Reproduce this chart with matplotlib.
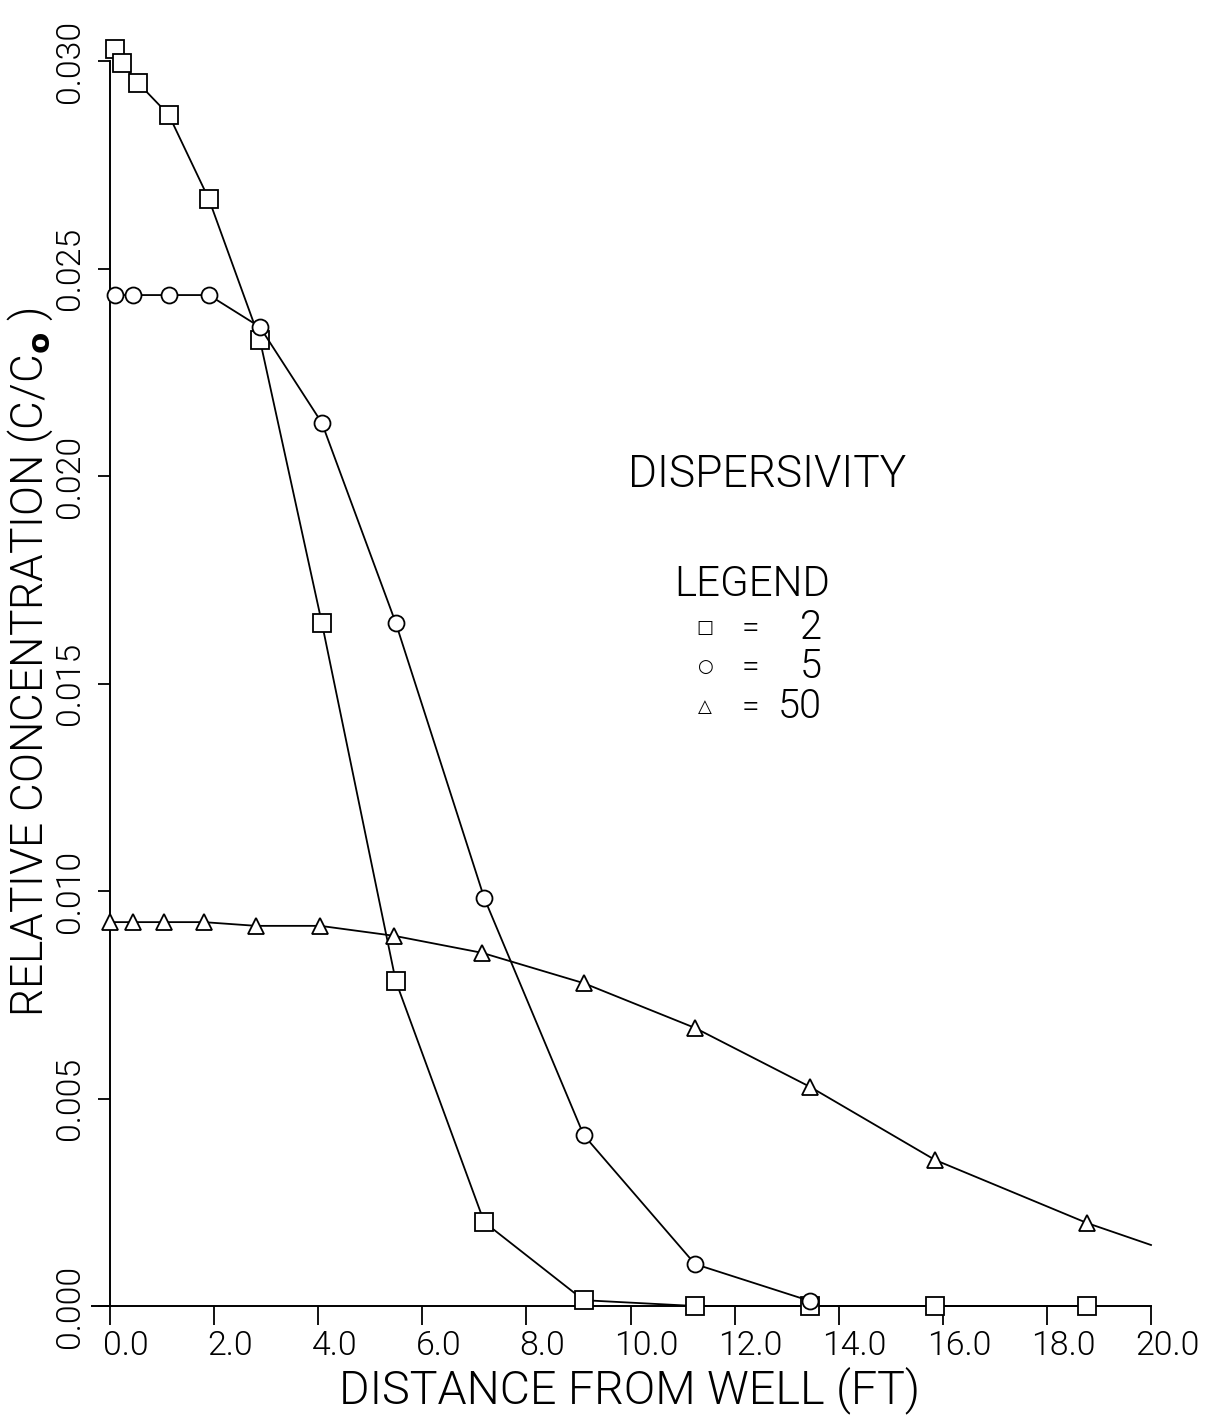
import math
import matplotlib
matplotlib.use("Agg")
import matplotlib.pyplot as plt
from matplotlib import font_manager
from matplotlib.font_manager import FontProperties
from matplotlib.textpath import TextPath
import matplotlib.transforms as mtransforms

# ---------------- data ----------------
x_sq = [0.10, 0.23, 0.54, 1.13, 1.90, 2.88, 4.07, 5.49, 7.19, 9.10, 11.24, 13.45, 15.85, 18.77]
y_sq = [0.0303, 0.02995, 0.02947, 0.0287, 0.02667, 0.02328, 0.01646, 0.00783, 0.00202,
        0.00014, 0.0, 0.0, 0.0, 0.0]

x_ci = [0.10, 0.45, 1.13, 1.90, 2.88, 4.07, 5.49, 7.19, 9.10, 11.24, 13.45]
y_ci = [0.02436, 0.02436, 0.02436, 0.02436, 0.02359, 0.02128, 0.01646, 0.00983, 0.00412,
        0.00101, 0.00012]

x_tr = [0.0, 0.45, 1.03, 1.80, 2.81, 4.04, 5.46, 7.15, 9.10, 11.24, 13.45, 15.85, 18.77, 20.0]
y_tr = [0.00925, 0.00925, 0.00925, 0.00925, 0.00916, 0.00916, 0.00892, 0.00851, 0.00778,
        0.0067, 0.00528, 0.00352, 0.0020, 0.00147]

x_ticks = [0, 2, 4, 6, 8, 10, 12, 14, 16, 18, 20]
x_tick_labels = ["0.0", "2.0", "4.0", "6.0", "8.0", "10.0", "12.0", "14.0", "16.0", "18.0", "20.0"]
y_ticks = [0.000, 0.005, 0.010, 0.015, 0.020, 0.025, 0.030]
y_tick_labels = ["0.000", "0.005", "0.010", "0.015", "0.020", "0.025", "0.030"]

legend_labels = ["2", "5", "50"]

# ---------------- font: prefer a light, normal-width sans ----------------
PREF = ["Roboto", "Lato", "Open Sans", "Inter", "Noto Sans", "DejaVu Sans"]


def pick_font():
    best, best_score = None, None
    for f in font_manager.fontManager.ttflist:
        nm = (f.name + " " + f.fname).lower()
        if ("condensed" in nm or "narrow" in nm or "mono" in nm or "italic" in nm
                or f.style != "normal" or str(f.stretch) != "normal"):
            continue
        rank = None
        for i, p in enumerate(PREF):
            if f.name == p or f.name.startswith(p + " "):
                rank = i
                break
        if rank is None or "cjk" in nm:
            continue
        try:
            w = int(f.weight)
        except Exception:
            w = {"light": 300, "normal": 400, "regular": 400, "bold": 700}.get(str(f.weight), 400)
        if "thin" in nm or "extralight" in nm.replace(" ", "") or w < 250:
            w = 150
        score = abs(w - 300) + 25 * rank
        if best_score is None or score < best_score:
            best, best_score = f.fname, score
    return best


_path = pick_font()
FP = FontProperties(fname=_path) if _path else FontProperties(family="DejaVu Sans")
plt.rcParams["mathtext.fontset"] = "dejavusans"

W, H = 1209, 1416
fig = plt.figure(figsize=(W / 100, H / 100), dpi=100)
ax = fig.add_axes([92 / W, 1 - 1306 / H, (1151 - 92) / W, (1306 - 61) / H])
ax.set_xlim(-0.346, 20.0)
ax.set_ylim(0.0, 0.030)

for s in ["top", "right"]:
    ax.spines[s].set_visible(False)
ax.spines["left"].set_position(("data", 0))
ax.spines["left"].set_linewidth(1.4)
ax.spines["bottom"].set_linewidth(1.4)

lw = 1.3
mk = dict(markerfacecolor="white", markeredgecolor="black", markeredgewidth=1.3,
          color="black", linewidth=lw, clip_on=False)
ax.plot(x_sq, y_sq, marker="s", markersize=12.5, zorder=3, **mk)
ax.plot(x_ci, y_ci, marker="o", markersize=11.5, zorder=4, **mk)
ax.plot(x_tr, y_tr, marker="^", markersize=12, markevery=list(range(len(x_tr) - 1)),
        zorder=5, **mk)

renderer = fig.canvas.get_renderer()
CAP = TextPath((0, 0), "H", size=100, prop=FP).get_extents().height / 100.0  # pt per pt


def size_for(text, target_w, target_cap, rotation=0):
    t = fig.text(0, 0, text, fontproperties=FP, fontsize=20, rotation=rotation)
    bb = t.get_window_extent(renderer)
    length = bb.height if rotation == 90 else bb.width
    t.remove()
    fs_w = 20 * target_w / length
    fs_h = (target_cap / CAP) * 72 / 100.0
    return math.sqrt(fs_w * fs_h)


tick_fs = 0.5 * (size_for("0.005", 82, 23) + size_for("10.0", 66, 25))

ax.set_xticks(x_ticks)
ax.set_xticklabels(x_tick_labels, fontproperties=FP)
ax.set_yticks(y_ticks)
ax.set_yticklabels(y_tick_labels, fontproperties=FP, rotation=90, va="center")
for lab in ax.get_xticklabels() + ax.get_yticklabels():
    lab.set_fontsize(tick_fs)
ax.tick_params(axis="x", direction="out", length=14, width=1.3, pad=3)
ax.tick_params(axis="y", direction="out", length=9, width=1.3, pad=8)
offset = mtransforms.ScaledTranslation(16 / 100, 0, fig.dpi_scale_trans)
for lab in ax.get_xticklabels():
    lab.set_transform(lab.get_transform() + offset)

xl_fs = size_for("DISTANCE FROM WELL (FT)", 550, 35)
fig.text(630 / W, 1 - 1390 / H, "DISTANCE FROM WELL (FT)", ha="center", va="center",
         fontproperties=FP, fontsize=xl_fs)

ylab = r"RELATIVE CONCENTRATION (C/C$_{\mathbf{o}}$ )"
yl_fs = size_for(ylab, 745, 30, rotation=90)
fig.text(30 / W, 1 - 662 / H, ylab, rotation=90, ha="center", va="center",
         fontproperties=FP, fontsize=yl_fs)

# ---------------- legend text ----------------
fig.text(767 / W, 1 - 475 / H, "DISPERSIVITY", ha="center", va="center",
         fontproperties=FP, fontsize=size_for("DISPERSIVITY", 275, 32))
fig.text(752 / W, 1 - 584 / H, "LEGEND", ha="center", va="center",
         fontproperties=FP, fontsize=size_for("LEGEND", 145, 32))
num_fs = size_for("50", 40, 31)
sym = ["\u25a1", "\u25cb", "\u25b3"]
rows_y = [628, 667, 707]
for sy, lab, ry in zip(sym, legend_labels, rows_y):
    fig.text(705 / W, 1 - ry / H, sy, ha="center", va="center", fontsize=13,
             family="DejaVu Sans")
    fig.text(750 / W, 1 - ry / H, "=", ha="center", va="center",
             fontproperties=FP, fontsize=num_fs * 0.8)
    fig.text(822 / W, 1 - ry / H, lab, ha="right", va="center",
             fontproperties=FP, fontsize=num_fs)

fig.savefig("out.png", dpi=100, facecolor="white")
